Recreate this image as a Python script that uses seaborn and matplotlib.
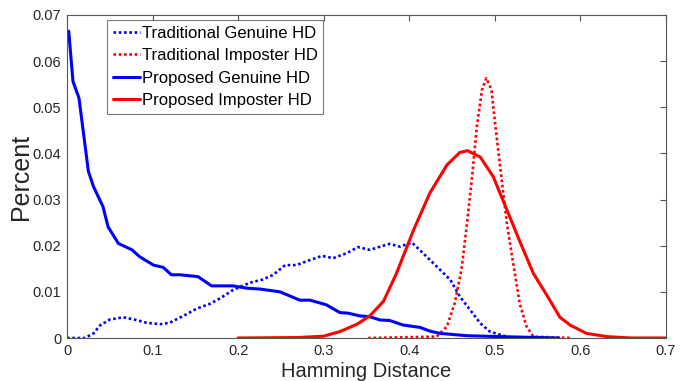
import matplotlib
matplotlib.use("Agg")
import matplotlib.pyplot as plt
import seaborn as sns

# ---- data ----
prop_gen_x = [0.002, 0.007, 0.014, 0.025, 0.031, 0.042, 0.048, 0.060, 0.076, 0.085, 0.101, 0.1125,
              0.122, 0.132, 0.153, 0.169, 0.194, 0.21, 0.226, 0.249, 0.272, 0.284, 0.303, 0.319,
              0.328, 0.342, 0.354, 0.366, 0.377, 0.393, 0.4125, 0.424, 0.436, 0.467, 0.506, 0.575]
prop_gen_y = [0.0665, 0.0556, 0.052, 0.0361, 0.0328, 0.0285, 0.0241, 0.0205, 0.0191, 0.0176, 0.0158,
              0.0153, 0.0137, 0.0137, 0.0133, 0.0113, 0.0113, 0.0108, 0.0106, 0.0100, 0.0082, 0.0082,
              0.0072, 0.0055, 0.0054, 0.0048, 0.0046, 0.0039, 0.0038, 0.0028, 0.0023, 0.0015, 0.0010,
              0.0005, 0.0003, 0.0]

trad_gen_x = [0.0, 0.021, 0.031, 0.039, 0.050, 0.066, 0.081, 0.093, 0.109, 0.120, 0.136, 0.152,
              0.167, 0.179, 0.194, 0.214, 0.229, 0.241, 0.255, 0.268, 0.284, 0.298, 0.311, 0.327,
              0.340, 0.354, 0.366, 0.377, 0.389, 0.403, 0.416, 0.432, 0.448, 0.459, 0.471, 0.483,
              0.494, 0.510, 0.52]
trad_gen_y = [0.0, 0.0, 0.001, 0.0028, 0.0040, 0.0045, 0.0039, 0.0033, 0.0030, 0.0033, 0.0048, 0.0064,
              0.0074, 0.0086, 0.0104, 0.0120, 0.0127, 0.0137, 0.0158, 0.0158, 0.0169, 0.0178, 0.0173,
              0.0184, 0.0197, 0.0191, 0.0198, 0.0204, 0.0198, 0.0207, 0.0184, 0.0155, 0.0126, 0.0090,
              0.0061, 0.0032, 0.0014, 0.0005, 0.0]

trad_imp_x = [0.352, 0.432, 0.444, 0.453, 0.461, 0.467, 0.473, 0.479, 0.485, 0.490, 0.496, 0.502,
              0.508, 0.514, 0.522, 0.529, 0.537, 0.545, 0.59]
trad_imp_y = [0.0, 0.0003, 0.0025, 0.0075, 0.0148, 0.0241, 0.0343, 0.0458, 0.0538, 0.0563, 0.0538,
              0.0437, 0.0343, 0.0249, 0.0155, 0.0075, 0.0025, 0.0003, 0.0]

prop_imp_x = [0.2, 0.27, 0.3, 0.319, 0.339, 0.354, 0.370, 0.385, 0.405, 0.424, 0.444, 0.459, 0.468,
              0.483, 0.498, 0.514, 0.529, 0.545, 0.561, 0.576, 0.588, 0.607, 0.631, 0.66, 0.7]
prop_imp_y = [0.0, 0.0001, 0.0004, 0.0014, 0.0030, 0.0048, 0.0080, 0.0140, 0.0234, 0.0314, 0.0375,
              0.0402, 0.0406, 0.0392, 0.0350, 0.0278, 0.0210, 0.0140, 0.0092, 0.0045, 0.0028, 0.0010,
              0.0003, 0.0, 0.0]

x_ticks = [0, 0.1, 0.2, 0.3, 0.4, 0.5, 0.6, 0.7]
x_tick_labels = ["0", "0.1", "0.2", "0.3", "0.4", "0.5", "0.6", "0.7"]
y_ticks = [0, 0.01, 0.02, 0.03, 0.04, 0.05, 0.06, 0.07]
y_tick_labels = ["0", "0.01", "0.02", "0.03", "0.04", "0.05", "0.06", "0.07"]

# ---- styling ----
sns.set_style("white")
plt.rcParams["font.family"] = ["Liberation Sans", "DejaVu Sans"]

fig = plt.figure(figsize=(6.89, 3.81), dpi=100)
ax = fig.add_axes([67 / 689, 43 / 381, 599 / 689, 323 / 381])

blue = "#0000ff"
red = "#ff0000"
dotted = (0, (1, 1))
sns.lineplot(x=trad_gen_x, y=trad_gen_y, ax=ax, color=blue, linestyle=dotted, linewidth=1.9,
             label="Traditional Genuine HD", sort=False)
sns.lineplot(x=trad_imp_x, y=trad_imp_y, ax=ax, color=red, linestyle=dotted, linewidth=1.9,
             label="Traditional Imposter HD", sort=False)
sns.lineplot(x=prop_gen_x, y=prop_gen_y, ax=ax, color=blue, linestyle="-", linewidth=2.2,
             label="Proposed Genuine HD", sort=False)
sns.lineplot(x=prop_imp_x, y=prop_imp_y, ax=ax, color=red, linestyle="-", linewidth=2.2,
             label="Proposed Imposter HD", sort=False)

ax.set_xlim(0, 0.7)
ax.set_ylim(0, 0.07)
ax.set_xticks(x_ticks)
ax.set_xticklabels(x_tick_labels)
ax.set_yticks(y_ticks)
ax.set_yticklabels(y_tick_labels)

tick_color = "#262626"
ax.tick_params(axis="both", direction="in", length=4, width=0.8, color="#555555",
               labelsize=10.5, labelcolor=tick_color, top=True, right=True, pad=4)
for s in ax.spines.values():
    s.set_color("#555555")
    s.set_linewidth(0.8)

ax.set_xlabel("Hamming Distance", fontsize=14.5, color=tick_color, labelpad=3)
ax.set_ylabel("Percent", fontsize=18, color=tick_color, labelpad=0)

leg = ax.legend(loc="upper left", bbox_to_anchor=(0.067, 0.985), fontsize=12,
                frameon=True, fancybox=False, handlelength=1.6, handletextpad=0.12,
                borderpad=0.35, labelspacing=0.45, borderaxespad=0)
leg.get_frame().set_edgecolor("#555555")
leg.get_frame().set_linewidth(0.8)
for t in leg.get_texts():
    t.set_color("black")

fig.savefig("out.png", dpi=100)
